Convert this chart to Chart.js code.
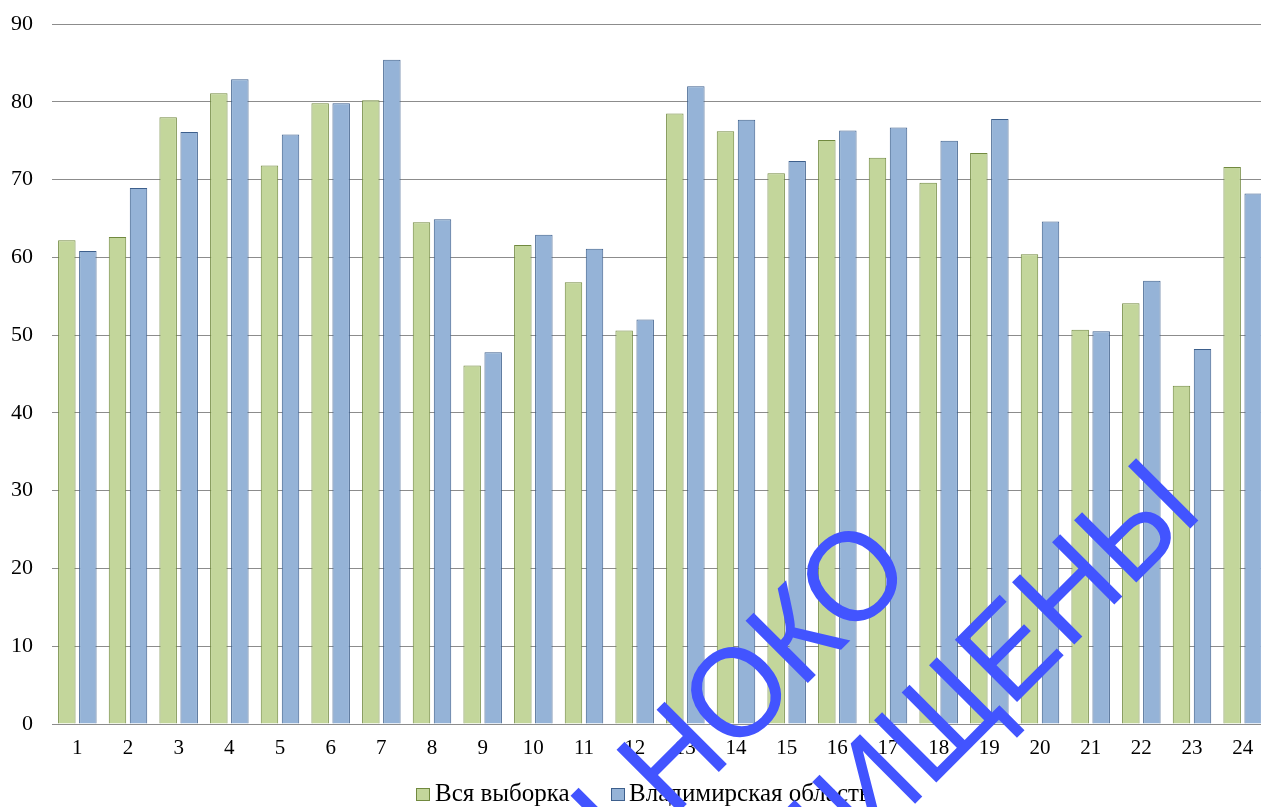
<!DOCTYPE html>
<html lang="ru">
<head>
<meta charset="utf-8">
<title>Вся выборка / Владимирская область</title>
<script src="https://cdn.jsdelivr.net/npm/chart.js@4/dist/chart.umd.min.js"></script>
<style>
    html, body { margin: 0; padding: 0; background: #fff; overflow: hidden; }
    #wrap { position: relative; width: 1268px; height: 807px; }
</style>
</head>
<body>
<div id="wrap"><canvas id="chart"></canvas></div>
<script>
const categories = ['1', '2', '3', '4', '5', '6', '7', '8', '9', '10', '11', '12',
    '13', '14', '15', '16', '17', '18', '19', '20', '21', '22', '23', '24'];
const seriesNames = ['Вся выборка', 'Владимирская область'];
const allSample = [62.2, 62.6, 78.0, 81.1, 71.8, 79.8, 80.2, 64.5, 46.1, 61.6, 56.8, 50.6,
    78.5, 76.2, 70.8, 75.1, 72.8, 69.6, 73.4, 60.4, 50.7, 54.1, 43.5, 71.6];
const vladimir = [60.8, 68.9, 76.1, 82.9, 75.8, 79.8, 85.4, 64.9, 47.8, 62.9, 61.1, 52.0,
    82.0, 77.7, 72.4, 76.3, 76.7, 75.0, 77.8, 64.6, 50.5, 57.0, 48.2, 68.2];
const yMin = 0, yMax = 90, yStep = 10;
const watermarkLines = ['РЕЗУЛЬТАТЫ НОКО', 'ЗАЩИЩЕНЫ'];

const serif = '"Liberation Serif", "Times New Roman", serif';

// legend drawn by hand so it can sit where the original one was
const legendPlugin = {
    id: 'customLegend',
    afterDraw(chart) {
        const ctx = chart.ctx;
        const spots = [{ box: 416, text: 435 }, { box: 611, text: 629 }];
        ctx.save();
        ctx.font = '25px ' + serif;
        ctx.textBaseline = 'alphabetic';
        ctx.textAlign = 'left';
        chart.data.datasets.forEach((ds, i) => {
            const s = spots[i];
            ctx.fillStyle = ds.backgroundColor;
            ctx.fillRect(s.box, 788, 14, 13);
            ctx.strokeStyle = ds.borderColor;
            ctx.lineWidth = 1;
            ctx.strokeRect(s.box + 0.5, 788.5, 13, 12);
            ctx.fillStyle = '#000';
            ctx.fillText(ds.label, s.text, 801);
        });
        ctx.restore();
    }
};

// diagonal watermark over the whole picture
const watermarkPlugin = {
    id: 'watermark',
    afterDraw(chart) {
        const ctx = chart.ctx;
        const em = 128;
        const squeeze = 0.95;
        const anchors = [{ x: 851, y: 575 }, { x: 1135, y: 519 }];
        ctx.save();
        ctx.font = em + 'px "Liberation Sans", Arial, sans-serif';
        ctx.fillStyle = '#4254ff';
        ctx.textAlign = 'right';
        ctx.textBaseline = 'alphabetic';
        watermarkLines.forEach((line, i) => {
            const lastW = ctx.measureText(line.slice(-1)).width;
            ctx.save();
            ctx.translate(anchors[i].x, anchors[i].y);
            ctx.rotate(-Math.PI / 4);
            ctx.scale(squeeze, 1);
            ctx.fillText(line, lastW / 2, 0.358 * em);
            ctx.restore();
        });
        ctx.restore();
    }
};

const ctx = document.getElementById('chart').getContext('2d');
new Chart(ctx, {
    type: 'bar',
    data: {
        labels: categories,
        datasets: [
            {
                label: seriesNames[0],
                data: allSample,
                backgroundColor: '#c3d69b',
                borderColor: '#71893f',
                borderWidth: 1
            },
            {
                label: seriesNames[1],
                data: vladimir,
                backgroundColor: '#95b3d7',
                borderColor: '#3d5f8c',
                borderWidth: 1
            }
        ]
    },
    options: {
        responsive: true,
        maintainAspectRatio: false,
        animation: false,
        events: [],
        layout: { padding: { top: 24, right: 0, bottom: 0, left: 0 } },
        datasets: {
            bar: { categoryPercentage: 0.83, barPercentage: 0.83 }
        },
        scales: {
            x: {
                grid: { display: false, drawTicks: false },
                border: { display: true, color: '#8c8c8c', width: 1 },
                ticks: {
                    color: '#000',
                    padding: 12,
                    maxRotation: 0,
                    autoSkip: false,
                    font: { family: serif, size: 21 }
                },
                afterFit(scale) { scale.height = 83; }
            },
            y: {
                min: yMin,
                max: yMax,
                // invisible tick marks keep the labels away from the plot
                grid: { color: '#8c8c8c', lineWidth: 1, drawTicks: true, tickLength: 19, tickColor: 'rgba(0,0,0,0)' },
                border: { display: false },
                ticks: {
                    stepSize: yStep,
                    color: '#000',
                    padding: 0,
                    font: { family: serif, size: 22 }
                },
                afterFit(scale) { scale.width = 52; }
            }
        },
        plugins: {
            legend: { display: false },
            tooltip: { enabled: false }
        }
    },
    plugins: [legendPlugin, watermarkPlugin]
});
</script>
</body>
</html>
